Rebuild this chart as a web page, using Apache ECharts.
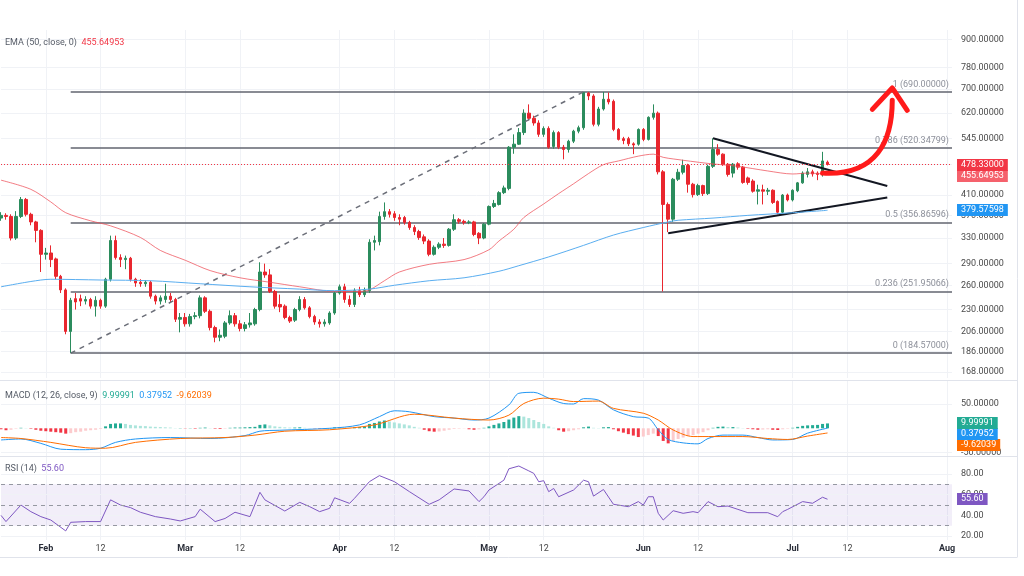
<!DOCTYPE html>
<html>
<head>
<meta charset="utf-8">
<title>Price chart with EMA, Fibonacci, MACD and RSI</title>
<script src="https://cdn.jsdelivr.net/npm/echarts@6.0.0/dist/echarts.min.js"></script>
<style>
html, body { margin: 0; padding: 0; background: #ffffff; }
#chart { width: 1024px; height: 576px; }
</style>
</head>
<body>
<div id="chart"></div>
<script>
// ---------------- data ----------------
const axisStart = '2025-01-23';
const axisEnd = '2025-08-02';
const monthNames = ['Jan','Feb','Mar','Apr','May','Jun','Jul','Aug','Sep','Oct','Nov','Dec'];

// daily candles: [open, close, low, high]
const ohlcJan = [ // Jan 23 - Jan 31
  [365,370,360,376],[370,368,362,374],[368,330,326,372],[330,368,327,378],[368,401,365,406],
  [401,372,368,404],[372,358,352,375],[358,343,323,360],[343,304,278,345]
];
const ohlcFeb = [
  [304,306,296,314],[306,296,285,318],[297,272,268,299],[272,254,250,274],[254,206,203,256],
  [206,241,184.57,244],[243,239,230,250],[243,240,234,248],[240,242,236,246],[242,234,231,244],
  [234,241,222,246],[241,234,231,243],[234,268,232,270],[268,326,265,334],[326,299,296,334],
  [299,296,285,304],[296,298,282,302],[298,268,265,300],[268,263,258,270],[264,262,258,268],
  [262,264,258,267],[264,246,243,266],[246,240,236,248],[240,244,236,247],[242,246,238,262],
  [246,242,238,250],[242,219,216,244],[219,221,205,226]
];
const ohlcMar = [
  [221,214,211,226],[214,222,211,225],[222,223,219,227],[223,244,220,247],[244,228,226,246],
  [228,210,207,230],[210,200,195,212],[200,202,196,208],[201,215,199,217],[215,223,213,229],
  [223,214,211,226],[214,209,206,218],[209,213,206,216],[213,215,210,226],[214,230,212,232],
  [230,278,228,292],[278,274,270,290],[274,252,250,282],[252,234,231,254],[236,233,227,248],
  [234,221,219,236],[221,217,215,223],[218,230,216,232],[230,242,228,246],[242,232,230,245],
  [232,222,220,234],[222,216,213,224],[216,214,210,219],[214,216,211,219],[215,226,213,228],
  [226,250,224,252]
];
const ohlcApr = [
  [250,258,248,261],[258,242,238,262],[242,236,233,247],[236,253,233,256],[253,248,245,258],
  [248,253,245,257],[253,323,250,328],[323,326,310,334],[324,368,318,377],[368,377,362,395],
  [377,372,366,382],[373,366,360,378],[366,363,352,372],[366,357,353,369],[357,348,344,360],
  [348,341,335,352],[341,331,327,344],[332,325,320,336],[325,304,301,328],[304,315,302,318],
  [315,320,312,323],[320,318,314,330],[318,345,316,347],[345,362,342,372],[362,359,355,365],
  [359,357,353,362],[357,358,354,361],[358,336,333,360],[338,330,320,340],[330,354,328,356]
];
const ohlcMay = [
  [354,387,352,389],[387,393,384,400],[391,415,389,418],[415,425,412,430],[424,522,420,525],
  [522,530,505,557],[530,562,528,575],[562,620,555,632],[620,604,598,648],[604,590,582,612],
  [590,557,550,598],[557,574,550,580],[574,522,518,580],[524,562,518,568],[562,522,517,566],
  [522,516,491,528],[516,538,508,542],[538,566,533,570],[566,576,560,582],[576,688,570,690],
  [686,676,662,690],[676,586,580,682],[586,633,580,640],[633,665,628,690],[665,656,648,688],
  [658,571,566,664],[571,543,540,575],[545,540,530,550],[545,531,525,550],[531,528,504,535],
  [530,571,526,574]
];
const ohlcJun = [
  [571,543,538,575],[543,607,540,610],[607,620,600,648],[620,461,455,625],[461,391,251.95,465],
  [391,363,340,395],[363,444,358,447],[444,460,440,468],[460,476,455,490],[476,433,415,480],
  [433,411,405,436],[411,430,408,434],[430,413,408,432],[413,474,410,478],[474,516,470,546],
  [516,504,500,530],[504,479,475,506],[479,455,450,482],[458,479,448,482],[480,472,466,484],
  [472,437,434,475],[447,437,432,450],[440,418,415,444],[418,421,391,432],[421,418,391,432],
  [418,420,410,425],[420,395,392,422],[397,376,372,399],[376,410,374,412],[410,400,397,413]
];
const ohlcJul = [
  [400,420,397,422],[419,436,416,438],[436,458,434,462],[455,461,448,470],[461,456,450,466],
  [458,455,442,462],[455,487,450,510],[484,478.33,476,488]
];

// MACD histogram, one bar per candle
const histJan = [-2,-4,-3,-1,1,0.5,-1,-3,-5];
const histFeb = [-6,-7,-8,-9,-11,-10,-8,-7,-5,-4,-3,-1.5,4,9,10,10,9,7,6,5,4.5,3.5,3,2.5,2,1.5,0.5,0.5];
const histMar = [-0.5,0.5,-1,1,1.5,0.5,-1,-1.5,-1,1,1.5,1.5,2,2.5,3,7,8,6,4,3,2,1.5,1.5,2,1,0.5,-0.5,-1,-1,0.5,2];
const histApr = [2,1.5,1,2,2.5,4,9,11,14,16,14,12,10,8,6,3,1,-3,-6,-7,-6.5,-5,-3,-1.5,-1,-0.5,-2,-3,-2,1];
const histMay = [4,7,10,13,18,22,25,24,21,17,13,9,4,1,-4,-7,-6,-4,-2,2,3.5,1,0.5,2,2.5,-2,-6,-9,-12,-15,-18];
const histJun = [-17,-14,-11,-16,-26,-31,-26,-22,-19,-16,-14,-11,-8,-4,1,3,3.5,2.5,2.5,1.5,0.5,-1,-2,-3,-2.5,-2,-3,-3.5,-2,-1];
const histJul = [1,3,5,6,6.5,7,9,9.99991];

// smooth indicator lines, read at dates
const ema50 = [
  ['01-23',442],['01-29',422],['02-02',396],['02-05',375],['02-10',360],['02-14',351],['02-20',331],
  ['02-24',310],['03-01',295],['03-06',280],['03-12',270],['03-18',264],['03-24',258],['03-31',252],
  ['04-05',252],['04-07',254],['04-10',266],['04-13',278],['04-19',289],['04-26',296],['05-01',311],
  ['05-03',325],['05-06',345],['05-08',366],['05-12',392],['05-15',413],['05-18',434],['05-21',457],
  ['05-24',478],['05-27',487],['05-31',499],['06-03',504],['06-05',496],['06-07',492],['06-14',481],
  ['06-20',474],['06-26',463],['07-01',456],['07-04',458],['07-08',455.64953]
];
const ema200 = [
  ['01-23',258],['01-29',265],['02-02',268],['02-12',267],['02-22',266],['03-04',262],['03-14',258],
  ['03-24',255],['03-31',253],['04-07',255],['04-12',260],['04-19',266],['04-26',270],['05-03',279],
  ['05-07',287],['05-13',300],['05-20',318],['05-26',335],['06-01',348],['06-06',358],['06-08',361],
  ['06-15',365],['06-22',370],['07-01',375],['07-08',379.57598]
];
const macdLine = [
  ['01-23',-24],['01-27',-22],['01-31',-31],['02-04',-43],['02-09',-44],['02-12',-41],['02-15',-29],
  ['02-19',-22],['02-26',-19],['03-06',-21],['03-13',-15],['03-16',-6],['03-20',-4],['03-30',0],
  ['04-05',7],['04-09',24],['04-12',36],['04-15',34],['04-20',24],['04-24',21],['04-28',17],
  ['05-01',21],['05-05',48],['05-07',72],['05-10',74],['05-13',62],['05-16',51],['05-18',50],
  ['05-20',61],['05-23',58],['05-26',38],['05-30',24],['06-02',21],['06-04',-3],['06-06',-23],
  ['06-09',-30],['06-12',-32],['06-14',-21],['06-17',-14],['06-21',-14],['06-24',-19],['06-27',-24],
  ['07-01',-23],['07-04',-10],['07-08',0.37952]
];
const signalLine = [
  ['01-23',-19],['01-27',-21],['02-02',-29],['02-09',-40],['02-13',-41],['02-19',-29],['02-28',-21],
  ['03-09',-19],['03-15',-14],['03-21',-6],['03-30',-3],['04-08',7],['04-16',29],['04-24',21],
  ['05-01',17],['05-05',27],['05-08',51],['05-12',62],['05-15',60],['05-18',55],['05-23',56],
  ['05-26',41],['06-01',31],['06-04',17],['06-07',-3.5],['06-11',-17],['06-15',-17],['06-21',-17],
  ['06-26',-21],['06-30',-23],['07-04',-16],['07-08',-9.62039]
];
const rsiLine = [
  ['01-23',40],['01-24',34],['01-27',50],['01-29',43.6],['01-31',38.8],['02-02',35.5],['02-05',25],
  ['02-06',33.3],['02-09',34],['02-12',34],['02-14',55],['02-16',50],['02-18',47.5],['02-20',43],
  ['02-23',38.8],['02-26',36.5],['02-28',34.6],['03-03',38.8],['03-04',46],['03-07',34],['03-09',37],
  ['03-11',43],['03-14',38.8],['03-16',62.3],['03-17',55],['03-21',44.2],['03-24',52.6],['03-26',48.4],
  ['03-28',43.6],['03-30',46.8],['03-31',57],['04-03',51.6],['04-04',56.5],['04-07',72.6],['04-09',78.4],
  ['04-12',72.6],['04-15',63],['04-19',50.7],['04-21',55],['04-24',65.5],['04-27',63.6],['04-29',53.3],
  ['04-30',58],['05-01',64.5],['05-04',74],['05-05',85],['05-07',87.7],['05-09',83],['05-10',80.6],
  ['05-11',72.5],['05-12',73.5],['05-13',62.9],['05-14',66],['05-15',58],['05-18',64.5],['05-20',74],
  ['05-21',72.5],['05-22',58.6],['05-24',65],['05-26',50.7],['05-29',48.4],['05-31',53.3],['06-01',50],
  ['06-02',58],['06-03',58],['06-04',42],['06-05',35.5],['06-07',44.5],['06-09',42],['06-11',43.6],
  ['06-12',42.6],['06-14',53.3],['06-16',48.4],['06-18',49],['06-20',45.8],['06-22',42.6],['06-26',42.6],
  ['06-28',38.7],['06-29',43.6],['06-30',45.8],['07-03',53.3],['07-05',51.7],['07-07',57.5],['07-08',55.6]
];

// axis ticks and levels
const priceTicks = [900, 780, 700, 620, 545, 480, 410, 370, 330, 290, 260, 230, 206, 186, 168];
const macdTicks = [50, -50];
const rsiTicks = [80, 60, 40, 20];
const rsiLevels = [70, 50, 30];

// drawings (in date / price units)
const fibStart = '02-06';
const fibLevels = [[1, 690], [0.786, 520.34799], [0.5, 356.86596], [0.236, 251.95066], [0, 184.57]];
const swingLine = [['02-06', 184.57], ['05-20', 690]];
const triangleUpper = [['06-15', 546], ['07-20', 429]];
const triangleLower = [['06-06', 338], ['07-20', 405]];
const arrowCurve = [['07-07', 458], ['07-18', 451], ['07-21', 541], ['07-21', 662]];
const arrowHead = [['07-17', 632], ['07-21', 704], ['07-24', 629]];

// ---------------- build ----------------
function buildDates(a, b) {
  const out = [];
  const d = new Date(a + 'T00:00:00Z');
  const e = new Date(b + 'T00:00:00Z');
  while (d <= e) { out.push(d.toISOString().slice(5, 10)); d.setUTCDate(d.getUTCDate() + 1); }
  return out;
}
const dates = buildDates(axisStart, axisEnd);
const ix = d => dates.indexOf(d);
const pts = arr => arr.map(([d, v]) => [ix(d), v]);
const ohlc = [].concat(ohlcJan, ohlcFeb, ohlcMar, ohlcApr, ohlcMay, ohlcJun, ohlcJul);
const hist = [].concat(histJan, histFeb, histMar, histApr, histMay, histJun, histJul);
const lastOf = arr => arr[arr.length - 1];
const lastClose = lastOf(ohlc)[1];

const FONT = 'Roboto, "Noto Sans", "DejaVu Sans", sans-serif';
const UP = '#2b8c5d', DOWN = '#e9262e';
const GRID_LINE = '#f0f2f6';
const isLabelDay = v => v.slice(3) === '01' || v.slice(3) === '12';

const histData = hist.map((v, i) => {
  const prev = i > 0 ? hist[i - 1] : 0;
  let c;
  if (v >= 0) c = v >= prev ? '#22ab94' : '#ace5dc';
  else c = v <= prev ? '#f23645' : '#fccbcd';
  return { value: v, itemStyle: { color: c } };
});

function tickSeries(axisIdx, ticks, digits) {
  return {
    type: 'line', xAxisIndex: axisIdx, yAxisIndex: axisIdx, data: [], silent: true,
    markLine: {
      z: 1, symbol: ['none', 'none'], silent: true, animation: false,
      lineStyle: { color: GRID_LINE, width: 1, type: 'solid' },
      label: { show: true, position: 'end', distance: 9, color: '#4a4a4a', fontSize: 9, fontFamily: FONT },
      data: ticks.map(v => ({ yAxis: v, label: { formatter: v.toFixed(digits) } }))
    }
  };
}
const seg = (a, b, style) => [
  { coord: [ix(a[0]), a[1]], lineStyle: style },
  { coord: [ix(b[0]), b[1]] }
];

function xAxisFor(gridIndex, showLabels) {
  return {
    type: 'category', gridIndex, data: dates, boundaryGap: false,
    axisLine: { show: false }, axisTick: { show: false },
    splitLine: { show: true, interval: (i, v) => isLabelDay(v), lineStyle: { color: GRID_LINE, width: 1 } },
    axisLabel: {
      show: showLabels, interval: (i, v) => isLabelDay(v), margin: 4,
      color: '#4a4a4a', fontSize: 9, fontFamily: FONT,
      formatter: v => v.slice(3) === '01' ? '{m|' + monthNames[+v.slice(0, 2) - 1] + '}' : v.slice(3),
      rich: { m: { fontWeight: 'bold', color: '#2a2e39', fontSize: 9, fontFamily: FONT } }
    }
  };
}

const frameGraphics = [
  { id: 'sep1', type: 'line', silent: true, shape: { x1: 0, y1: 380.5, x2: 1017, y2: 380.5 }, style: { stroke: '#e0e3eb', lineWidth: 1 } },
  { id: 'sep2', type: 'line', silent: true, shape: { x1: 0, y1: 456.5, x2: 1017, y2: 456.5 }, style: { stroke: '#e0e3eb', lineWidth: 1 } },
  { id: 'right', type: 'line', silent: true, shape: { x1: 1017.5, y1: 0, x2: 1017.5, y2: 557 }, style: { stroke: '#e0e3eb', lineWidth: 1 } },
  { id: 'bottom', type: 'line', silent: true, shape: { x1: 0, y1: 557.5, x2: 1017.5, y2: 557.5 }, style: { stroke: '#e0e3eb', lineWidth: 1 } }
];

const option = {
  animation: false,
  backgroundColor: '#ffffff',
  textStyle: { fontFamily: FONT },
  title: [
    { left: 5, top: 38, padding: 0,
      text: '{n|EMA (50, close, 0)}  {r|' + lastOf(ema50)[1].toFixed(5) + '}',
      textStyle: { fontSize: 9, fontWeight: 'normal', rich: {
        n: { color: '#555b66', fontSize: 9, fontFamily: FONT },
        r: { color: '#f23645', fontSize: 9, fontFamily: FONT } } } },
    { left: 5, top: 391, padding: 0,
      text: '{n|MACD (12, 26, close, 9)}  {g|' + lastOf(hist).toFixed(5) + '}  {b|' + lastOf(macdLine)[1].toFixed(5) + '}  {o|' + lastOf(signalLine)[1].toFixed(5) + '}',
      textStyle: { fontSize: 9, fontWeight: 'normal', rich: {
        n: { color: '#555b66', fontSize: 9, fontFamily: FONT },
        g: { color: '#22ab94', fontSize: 9, fontFamily: FONT },
        b: { color: '#2196f3', fontSize: 9, fontFamily: FONT },
        o: { color: '#ff6d00', fontSize: 9, fontFamily: FONT } } } },
    { left: 5, top: 464, padding: 0,
      text: '{n|RSI (14)}  {p|' + lastOf(rsiLine)[1].toFixed(2) + '}',
      textStyle: { fontSize: 9, fontWeight: 'normal', rich: {
        n: { color: '#555b66', fontSize: 9, fontFamily: FONT },
        p: { color: '#7e57c2', fontSize: 9, fontFamily: FONT } } } }
  ],
  grid: [
    { left: 1, right: 72, top: 30, height: 348, containLabel: false, outerBoundsMode: 'none' },
    { left: 1, right: 72, top: 381, height: 75, containLabel: false, outerBoundsMode: 'none' },
    { left: 1, right: 72, top: 457, height: 83, containLabel: false, outerBoundsMode: 'none' }
  ],
  xAxis: [xAxisFor(0, false), xAxisFor(1, false), xAxisFor(2, true)],
  yAxis: [
    { type: 'log', gridIndex: 0, min: 162.8, max: 943.3, show: false },
    { type: 'value', gridIndex: 1, min: -57, max: 97.3, show: false },
    { type: 'value', gridIndex: 2, min: 16.2, max: 96.4, show: false }
  ],
  graphic: frameGraphics,
  series: [
    tickSeries(0, priceTicks, 5),
    tickSeries(1, macdTicks, 5),
    tickSeries(2, rsiTicks, 2),
    { // Fibonacci levels
      type: 'line', xAxisIndex: 0, yAxisIndex: 0, data: [], silent: true,
      markLine: {
        z: 3, symbol: ['none', 'none'], silent: true, animation: false,
        lineStyle: { color: '#62656f', width: 1.5, type: 'solid' },
        label: { show: true, position: 'insideEndTop', color: '#8d909a', fontSize: 9, fontFamily: FONT, distance: 3 },
        data: fibLevels.map(([lvl, v]) => [
          { coord: [ix(fibStart), v], label: { formatter: lvl + ' (' + v.toFixed(5) + ')' } },
          { coord: [dates.length - 1, v] }
        ])
      }
    },
    { // swing line and triangle
      type: 'line', xAxisIndex: 0, yAxisIndex: 0, data: [], silent: true,
      markLine: {
        z: 4, symbol: ['none', 'none'], silent: true, animation: false,
        label: { show: false },
        data: [
          seg(swingLine[0], swingLine[1], { color: '#6b6e78', width: 1.5, type: [5, 5] }),
          seg(triangleUpper[0], triangleUpper[1], { color: '#131722', width: 2, type: 'solid' }),
          seg(triangleLower[0], triangleLower[1], { color: '#131722', width: 2, type: 'solid' })
        ]
      }
    },
    { // last price dotted line
      type: 'line', xAxisIndex: 0, yAxisIndex: 0, data: [], silent: true,
      markLine: { z: 5, symbol: ['none', 'none'], silent: true, animation: false,
        label: { show: false },
        lineStyle: { color: '#f23645', width: 1, type: [1, 2] },
        data: [{ yAxis: lastClose }] }
    },
    {
      type: 'candlestick', name: 'Price', xAxisIndex: 0, yAxisIndex: 0, data: ohlc, barWidth: 3, z: 3,
      itemStyle: { color: UP, color0: DOWN, borderColor: UP, borderColor0: DOWN, borderWidth: 1 }
    },
    {
      type: 'line', name: 'EMA 50', xAxisIndex: 0, yAxisIndex: 0, data: pts(ema50), symbol: 'none', smooth: 0.3, z: 4,
      lineStyle: { color: 'rgba(238,80,90,0.75)', width: 1 }
    },
    {
      type: 'line', name: 'EMA 200', xAxisIndex: 0, yAxisIndex: 0, data: pts(ema200), symbol: 'none', smooth: 0.3, z: 4,
      lineStyle: { color: '#5aaef0', width: 1 }
    },
    { // curved arrow
      type: 'custom', xAxisIndex: 0, yAxisIndex: 0, data: [0], z: 20, silent: true,
      renderItem: (params, api) => {
        const p = arrowCurve.map(([d, v]) => api.coord([ix(d), v]));
        const h = arrowHead.map(([d, v]) => api.coord([ix(d), v]));
        return { type: 'group', children: [
          { type: 'bezierCurve', shape: { x1: p[0][0], y1: p[0][1], cpx1: p[1][0], cpy1: p[1][1],
              cpx2: p[2][0], cpy2: p[2][1], x2: p[3][0], y2: p[3][1] },
            style: { fill: null, stroke: '#ff1a1a', lineWidth: 5, lineCap: 'round' } },
          { type: 'polyline', shape: { points: h },
            style: { fill: null, stroke: '#ff1a1a', lineWidth: 5, lineCap: 'round', lineJoin: 'round' } }
        ] };
      }
    },
    {
      type: 'bar', name: 'Histogram', xAxisIndex: 1, yAxisIndex: 1, data: histData, barWidth: 3, z: 2
    },
    {
      type: 'line', name: 'MACD', xAxisIndex: 1, yAxisIndex: 1, data: pts(macdLine), symbol: 'none', smooth: 0.3, z: 3,
      lineStyle: { color: '#2196f3', width: 1 }
    },
    {
      type: 'line', name: 'Signal', xAxisIndex: 1, yAxisIndex: 1, data: pts(signalLine), symbol: 'none', smooth: 0.3, z: 3,
      lineStyle: { color: '#ff6d00', width: 1 }
    },
    {
      type: 'line', name: 'RSI', xAxisIndex: 2, yAxisIndex: 2, data: pts(rsiLine), symbol: 'none', z: 3,
      lineStyle: { color: '#7e57c2', width: 1 },
      markArea: { silent: true, itemStyle: { color: 'rgba(126,87,194,0.1)' },
        data: [[{ yAxis: 30 }, { yAxis: 70 }]] },
      markLine: { z: 6, symbol: ['none', 'none'], silent: true, animation: false,
        label: { show: false },
        lineStyle: { color: '#9598a1', width: 1, type: [4, 4] },
        data: rsiLevels.map(v => ({ yAxis: v })) }
    }
  ]
};

const chart = echarts.init(document.getElementById('chart'), null, { renderer: 'canvas' });
chart.setOption(option);

// last-value tags on the price scales, placed through the axes' own scales
const tags = [
  { axis: 0, value: lastOf(ema200)[1], digits: 5, bg: '#2196f3', dy: 0 },
  { axis: 0, value: lastOf(ema50)[1], digits: 5, bg: '#f5616c', dy: 2 },
  { axis: 0, value: lastClose, digits: 5, bg: '#f23645', dy: 0 },
  { axis: 1, value: lastOf(signalLine)[1], digits: 5, bg: '#ff6d00', dy: 12 },
  { axis: 1, value: lastOf(macdLine)[1], digits: 5, bg: '#2196f3', dy: 6 },
  { axis: 1, value: lastOf(hist), digits: 5, bg: '#22ab94', dy: 0 },
  { axis: 2, value: lastOf(rsiLine)[1], digits: 2, bg: '#7e57c2', dy: 0 }
];
const tagGraphics = tags.map((t, i) => {
  const y = chart.convertToPixel({ xAxisIndex: t.axis, yAxisIndex: t.axis }, [0, t.value])[1] + t.dy;
  return {
    id: 'tag' + i, type: 'text', z: 100, silent: true,
    style: { x: 957, y: Math.round(y), text: t.value.toFixed(t.digits), fill: '#ffffff',
      backgroundColor: t.bg, padding: [2, 4, 1, 4], font: '9px ' + FONT, verticalAlign: 'middle', align: 'left' }
  };
});
chart.setOption({ graphic: frameGraphics.concat(tagGraphics) });
</script>
</body>
</html>
